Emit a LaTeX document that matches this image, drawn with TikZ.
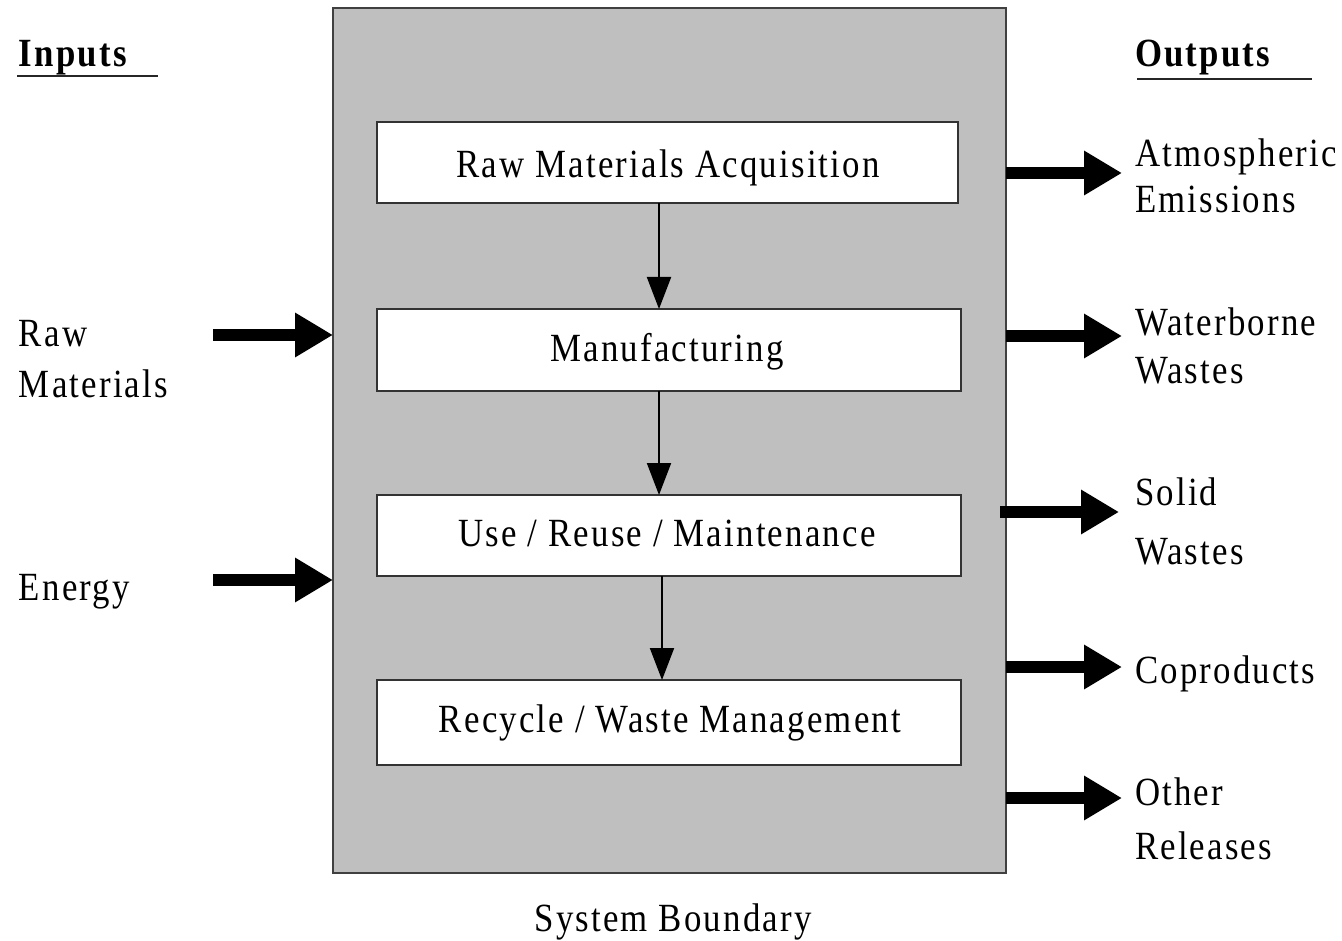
\documentclass[tikz,border=0pt]{standalone}
\usepackage{fontspec}
\setmainfont{Liberation Serif}[FakeStretch=0.87, LetterSpace=5.5]
\usetikzlibrary{arrows.meta}
\begin{document}
\begin{tikzpicture}[x=1pt,y=-1pt,
  every node/.style={font=\fontsize{40}{48}\selectfont, inner sep=0pt, outer sep=0pt},
  boundary/.style={draw=black!75, line width=2.5pt, fill=black!25, minimum width=673pt, minimum height=865pt},
  stage/.style={draw=black!80, line width=2.5pt, fill=white, minimum height=82pt},
  txt/.style={anchor=base west},
  ctxt/.style={anchor=base},
  flow/.style={draw=black, line width=2pt, -{Triangle[length=32pt,width=24pt]}},
  io/.style={draw=black, line width=12pt, -{Triangle[length=38pt,width=42pt]}},
  rule/.style={draw=black!85, line width=2.5pt}
]
\useasboundingbox (0,0) rectangle (1342,941);

% system boundary
\node[boundary] (sb) at (669.5,440.5) {};

% stages
\node[stage, minimum width=581pt, minimum height=81pt] (b1) at (667.5,162.5) {};
\node[stage, minimum width=584pt] (b2) at (669,350) {};
\node[stage, minimum width=584pt, minimum height=81pt] (b3) at (669,535.5) {};
\node[stage, minimum width=584pt, minimum height=85pt] (b4) at (669,722.5) {};

\node[ctxt] (t1) at (668,178) {Raw Materials Acquisition};
\node[ctxt] (t2) at (667,362) {Manufacturing};
\node[ctxt] (t3) at (667,546) {Use / Reuse / Maintenance};
\node[ctxt] (t4) at (670,732) {Recycle / Waste Management};

% flow arrows
\coordinate (x1) at (659,0);
\coordinate (x3) at (662,0);
\draw[flow] (b1.south -| x1) -- (b2.north -| x1);
\draw[flow] (b2.south -| x1) -- (b3.north -| x1);
\draw[flow] (b3.south -| x3) -- (b4.north -| x3);

% inputs
\node[txt, font=\fontsize{40}{48}\selectfont\bfseries] (inp) at (19,67) {Inputs};
\coordinate (iu1) at (17,76);
\coordinate (iu2) at (158,76);
\draw[rule] (iu1) -- (iu2);

\node[txt] (rm1) at (19,347) {Raw};
\node[txt] (rm2) at (19,397) {Materials};
\node[txt] (en) at (19,600) {Energy};

\coordinate (ia) at (213,335);
\coordinate (ib) at (213,580);
\draw[io] (ia) -- (ia -| sb.west);
\draw[io] (ib) -- (ib -| sb.west);

% outputs
\node[txt, font=\fontsize{40}{48}\selectfont\bfseries] (outp) at (1135,67) {Outputs};
\coordinate (ou1) at (1137,79);
\coordinate (ou2) at (1312,79);
\draw[rule] (ou1) -- (ou2);

\node[txt] (o1a) at (1135,167) {Atmospheric};
\node[txt] (o1b) at (1135,213) {Emissions};
\node[txt] (o2a) at (1135,336) {Waterborne};
\node[txt] (o2b) at (1135,384) {Wastes};
\node[txt] (o3a) at (1135,505) {Solid};
\node[txt] (o3b) at (1135,564) {Wastes};
\node[txt] (o4) at (1135,683) {Coproducts};
\node[txt] (o5a) at (1135,805) {Other};
\node[txt] (o5b) at (1135,859) {Releases};

\coordinate (e1) at (1122,173);
\coordinate (e2) at (1122,336);
\coordinate (e3) at (1119,512);
\coordinate (e4) at (1122,667);
\coordinate (e5) at (1122,798);
\draw[io] (e1 -| sb.east) -- (e1);
\draw[io] (e2 -| sb.east) -- (e2);
\draw[io] ([xshift=-6pt]e3 -| sb.east) -- (e3);
\draw[io] (e4 -| sb.east) -- (e4);
\draw[io] (e5 -| sb.east) -- (e5);

\node[ctxt] (sbl) at (673,931) {System Boundary};
\end{tikzpicture}
\end{document}
